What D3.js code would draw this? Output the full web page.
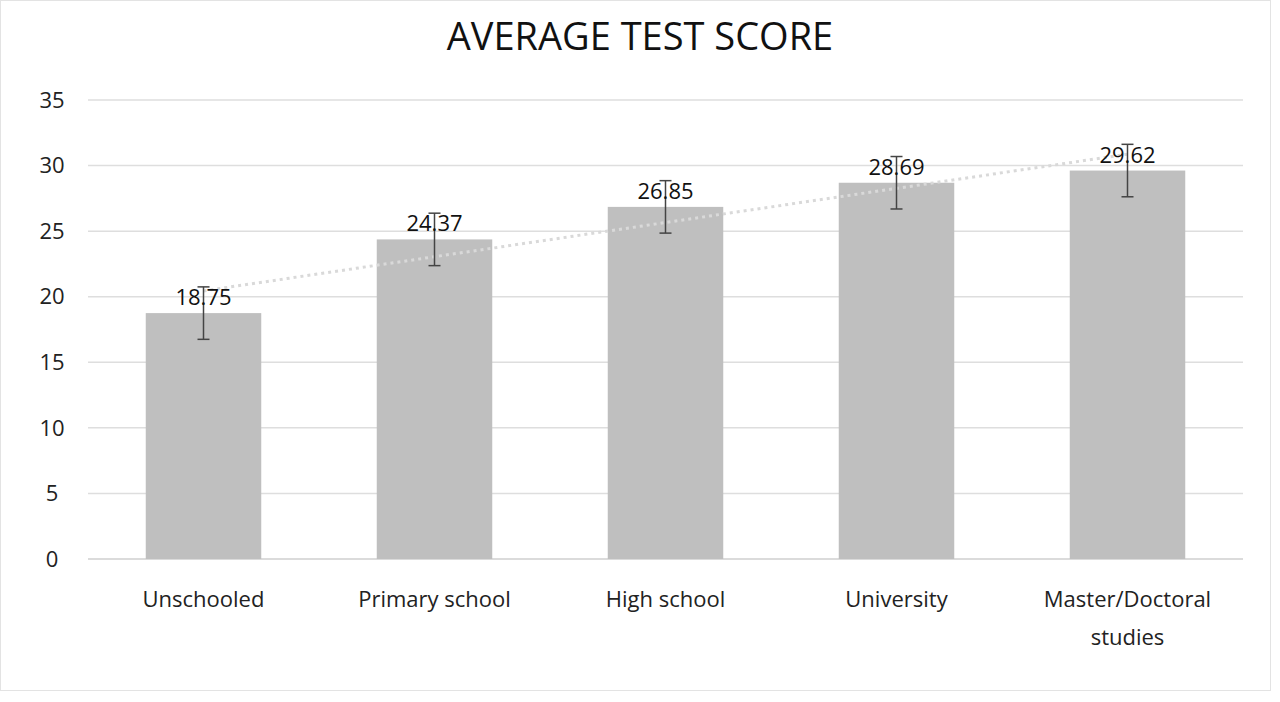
<!DOCTYPE html>
<html><head><meta charset="utf-8">
<script src="https://cdn.jsdelivr.net/npm/d3@7"></script>
<style>body{margin:0;background:#fff;font-family:"Open Sans",sans-serif;}</style>
</head><body><div id="chart"></div>
<script>
const categories = ["Unschooled", "Primary school", "High school", "University", "Master/Doctoral studies"];
const scores = [18.75, 24.37, 26.85, 28.69, 29.62];
const errors = [2, 2, 2, 2, 2];
const yTicks = [0, 5, 10, 15, 20, 25, 30, 35];

const W = 1280, H = 702;
const margin = {top: 100, right: 37, bottom: 143, left: 88};
const width = W - margin.left - margin.right, height = H - margin.top - margin.bottom;

const svg = d3.select("#chart").append("svg").attr("width", W).attr("height", H);

// outer frame
svg.append("rect").attr("x", 0.5).attr("y", 0.5).attr("width", 1270).attr("height", 690)
  .attr("fill", "none").attr("stroke", "#e3e3e3");

svg.append("text").attr("x", 640).attr("y", 50).attr("text-anchor", "middle")
  .attr("font-size", 38).attr("fill", "#111").text("AVERAGE TEST SCORE");

const g = svg.append("g").attr("transform", `translate(${margin.left},${margin.top})`);

const x = d3.scaleBand().domain(categories).range([0, width]).paddingInner(0.5).paddingOuter(0.25);
const y = d3.scaleLinear().domain([0, 35]).range([height, 0]);

// gridlines + y labels
g.selectAll(".grid").data(yTicks).join("line")
  .attr("x1", 0).attr("x2", width).attr("y1", d => y(d)).attr("y2", d => y(d))
  .attr("stroke", d => d === 0 ? "#cfcfcf" : "#dedede").attr("stroke-width", 1.5);
g.selectAll(".ylab").data(yTicks).join("text")
  .attr("x", -36).attr("y", d => y(d)).attr("dy", "0.35em").attr("text-anchor", "middle")
  .attr("font-size", 22).attr("fill", "#222").text(d => d);

// bars
g.selectAll(".bar").data(scores).join("rect")
  .attr("x", (d, i) => x(categories[i])).attr("width", x.bandwidth())
  .attr("y", d => y(d)).attr("height", d => height - y(d)).attr("fill", "#bfbfbf");

// trendline (linear fit)
const n = scores.length, mx = (n - 1) / 2, my = d3.mean(scores);
const slope = d3.sum(scores, (v, i) => (i - mx) * (v - my)) / d3.sum(scores, (v, i) => (i - mx) ** 2);
const cx = i => x(categories[i]) + x.bandwidth() / 2;
g.append("line").attr("x1", cx(0)).attr("x2", cx(n - 1))
  .attr("y1", y(my - slope * mx)).attr("y2", y(my + slope * mx))
  .attr("stroke", "#d9d9d9").attr("stroke-width", 3).attr("stroke-dasharray", "3,4");

// error bars
const eb = g.selectAll(".err").data(scores).join("g");
eb.append("line").attr("x1", (d, i) => cx(i)).attr("x2", (d, i) => cx(i))
  .attr("y1", (d, i) => y(d + errors[i])).attr("y2", (d, i) => y(d - errors[i]))
  .attr("stroke", "#444").attr("stroke-width", 1.5);
[1, -1].forEach(s => eb.append("line")
  .attr("x1", (d, i) => cx(i) - 6).attr("x2", (d, i) => cx(i) + 6)
  .attr("y1", (d, i) => y(d + s * errors[i])).attr("y2", (d, i) => y(d + s * errors[i]))
  .attr("stroke", "#444").attr("stroke-width", 1.5));

// value labels
g.selectAll(".val").data(scores).join("text")
  .attr("x", (d, i) => cx(i)).attr("y", d => y(d) - 8).attr("text-anchor", "middle")
  .attr("font-size", 22).attr("fill", "#111").text(d => d.toFixed(2));

// x labels
g.selectAll(".xlab").data(categories).join("text")
  .attr("x", d => x(d) + x.bandwidth() / 2).attr("y", height + 48).attr("text-anchor", "middle")
  .attr("font-size", 22).attr("fill", "#222")
  .each(function(d) {
    const t = d3.select(this);
    const parts = d === "Master/Doctoral studies" ? ["Master/Doctoral", "studies"] : [d];
    parts.forEach((p, k) => t.append("tspan").attr("x", t.attr("x")).attr("dy", k ? 38 : 0).text(p));
  });
</script></body></html>
